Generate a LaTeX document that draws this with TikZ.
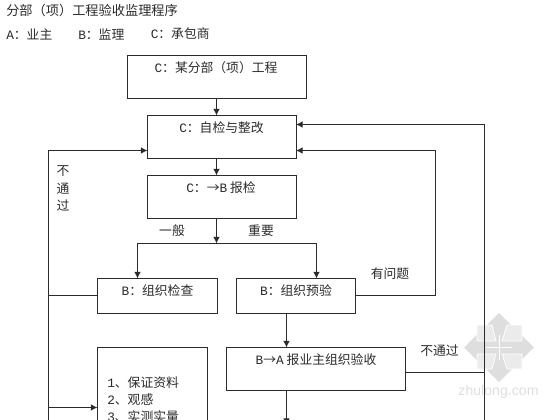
\documentclass[tikz,border=0pt]{standalone}
\usepackage{fontspec}
\setmainfont{Noto Sans CJK SC}
\newfontfamily\latf{Liberation Mono}
\newfontfamily\wmf{Liberation Sans}
\usetikzlibrary{arrows.meta}
\definecolor{ink}{HTML}{2B2B2B}
\tikzset{
  x=0.75pt,y=-0.75pt,
  box/.style={draw=ink,line width=0.75pt,inner sep=0pt,outer sep=0pt,fill=white},
  link/.style={draw=ink,line width=0.75pt},
  flow/.style={link,-{Latex[length=5pt,width=5pt]}},
  txt/.style={inner sep=0pt,font=\fontsize{9.6pt}{11pt}\selectfont,text=ink},
  wm/.style={fill=black!13,draw=none},
  wml/.style={fill=black!8,draw=white,line width=0.6pt},
  wms/.style={draw=white,line width=0.6pt}
}
\newcommand{\boxat}[5]{\node[box,anchor=north west,minimum width=#4*0.75pt,minimum height=#5*0.75pt] (#1) at (#2,#3) {};}
\begin{document}
\begin{tikzpicture}
\useasboundingbox (0,0) rectangle (560,420);
\clip (0,0) rectangle (560,420);
% watermark
\fill[wm] (499,313) -- (534,347.5) -- (499,382) -- (464,347.5) -- cycle;
\path[wml] (477,325) -- (492,325) -- (496,341) -- (477,341) -- cycle
           (507,325) -- (522,325) -- (522,341) -- (502,341) -- cycle
           (477,354) -- (496,354) -- (492,369) -- (477,369) -- cycle
           (502,354) -- (522,354) -- (522,369) -- (507,369) -- cycle;
\draw[wms] (499,335) -- (499,360) (486,347.5) -- (512,347.5);
\node[inner sep=0pt,text=black!13,font=\wmf\fontsize{10.6pt}{12pt}\selectfont] (wmtext) at (498.5,392) {zhulong.com};
% boxes
\boxat{b1}{127.5}{55.5}{178.5}{43}
\boxat{b2}{147.5}{115.5}{148.5}{43}
\boxat{b3}{147.5}{175.5}{148.5}{43}
\boxat{b4}{97.5}{278.5}{119.5}{35}
\boxat{b5}{236.5}{278.5}{119}{35}
\boxat{b6}{226.5}{347.5}{178.5}{43}
\boxat{b7}{97.5}{347.5}{109.5}{100}
% helper points
\coordinate (split) at (216.5,243.5);
\coordinate (x4) at (137.5,243.5);
\coordinate (x5) at (316.5,243.5);
\coordinate (y2a) at (484.5,124.5);
\coordinate (y2b) at (435.5,150.5);
\coordinate (yl) at (48.5,150.5);
\coordinate (leftbot) at (48.5,407.5);
\coordinate (leftend) at (48.5,425);
\coordinate (rightend) at (484.5,425);
\coordinate (d5) at (286.5,313.5);
\coordinate (downend) at (286.5,425);
\coordinate (ym) at (0,295.5);
\coordinate (yn) at (0,372.5);
% connectors
\draw[flow] (216.5,98.5) -- (216.5,115.5);
\draw[flow] (216.5,158.5) -- (216.5,175.5);
\draw[flow] (216.5,218.5) -- (split);
\draw[flow] (split) -- (x4) -- (x4 |- b4.north);
\draw[flow] (split) -- (x5) -- (x5 |- b5.north);
\draw[flow] (d5) -- (d5 |- b6.north);
\draw[flow] (d5 |- b6.south) -- (downend);
\draw[link] (b4.west |- ym) -- (yl |- ym);
\draw[flow] (leftend) -- (yl) -- (yl -| b2.west);
\draw[flow] (leftbot) -- (leftbot -| b7.west);
\draw[flow] (b5.east |- ym) -- (y2b |- ym) -- (y2b) -- (y2b -| b2.east);
\draw[link] (b6.east |- yn) -- (y2a |- yn);
\draw[flow] (rightend) -- (y2a) -- (y2a -| b2.east);
% texts
\node[txt,anchor=west,font=\fontsize{9.9pt}{11pt}\selectfont] (title) at (6,10) {分部（项）工程验收监理程序};
\node[txt,anchor=west] (la) at (6,34) {{\latf A}：业主};
\node[txt,anchor=west] (lb) at (78,34) {{\latf B}：监理};
\node[txt,anchor=west] (lc) at (150.5,34) {{\latf C}：承包商};
\node[txt] (t1) at (216,68) {{\latf C}：某分部（项）工程};
\node[txt] (t2) at (221.5,128) {{\latf C}：自检与整改};
\node[txt] (t3) at (221,188) {{\latf C}：→{\latf B} 报检};
\node[txt] (t4) at (157.5,291) {{\latf B}：组织检查};
\node[txt] (t5) at (296,291) {{\latf B}：组织预验};
\node[txt] (t6) at (316,360) {{\latf B}→{\latf A} 报业主组织验收};
\node[txt] (yiban) at (172,231) {一般};
\node[txt] (zhongyao) at (261,231) {重要};
\node[txt] (youwenti) at (390,274) {有问题};
\node[txt] (butongguo) at (439.5,351) {不通过};
\node[txt] (bu) at (63,171) {不};
\node[txt] (tong) at (63,189) {通};
\node[txt] (guo) at (63,206) {过};
\node[txt,anchor=west] (i1) at (107,383) {{\latf 1}、保证资料};
\node[txt,anchor=west] (i2) at (107,400) {{\latf 2}、观感};
\node[txt,anchor=west] (i3) at (107,416.5) {{\latf 3}、实测实量};
\end{tikzpicture}
\end{document}
